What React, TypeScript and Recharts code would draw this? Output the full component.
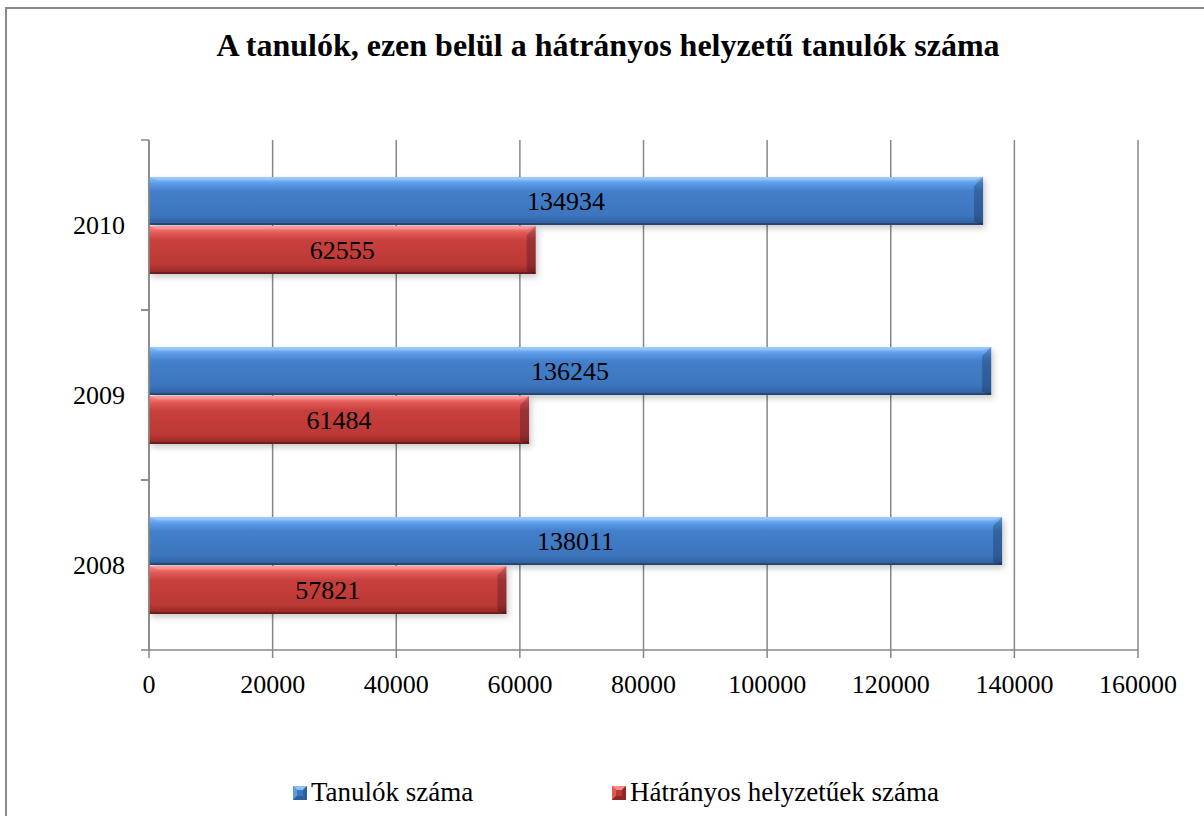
import React from "react";
import { BarChart, Bar, XAxis, YAxis, CartesianGrid, LabelList } from "recharts";

const years = ["2010", "2009", "2008"];
const tanulok = [134934, 136245, 138011];
const hatranyos = [62555, 61484, 57821];
const xTicks = [0, 20000, 40000, 60000, 80000, 100000, 120000, 140000, 160000];
const title = "A tanulók, ezen belül a hátrányos helyzetű tanulók száma";
const seriesNames = ["Tanulók száma", "Hátrányos helyzetűek száma"];

const data = years.map((y, i) => ({ year: y, tanulok: tanulok[i], hatranyos: hatranyos[i] }));

const W = 1204;
const H = 816;
const PLOT_LEFT = 149;
const PLOT_TOP = 140;
const PLOT_BOTTOM = 650;
const PLOT_RIGHT = 1138;
const HALF_BAND = (PLOT_BOTTOM - PLOT_TOP) / years.length / 2;
const FONT = "'Liberation Serif', 'Times New Roman', serif";
const AXIS = "#878787";

const palettes: Record<string, string[]> = {
  blue: ["#8cc2ff", "#5a9ae6", "#437fca", "#3c75bd", "#2f5e9c"],
  red: ["#ff8a88", "#e25a57", "#c8403d", "#bb3936", "#8f2623"],
};

const makeShape = (key: string) => (props: any) => {
  const { x, y, width, height } = props;
  if (!width || width <= 0) return <g />;
  const c = palettes[key];
  const id = `g-${key}-${Math.round(y)}`;
  const b = 9;
  return (
    <g>
      <defs>
        <linearGradient id={id} x1="0" y1="0" x2="0" y2="1">
          <stop offset="0" stopColor={c[0]} />
          <stop offset="0.14" stopColor={c[1]} />
          <stop offset="0.3" stopColor={c[2]} />
          <stop offset="0.8" stopColor={c[3]} />
          <stop offset="1" stopColor={c[4]} />
        </linearGradient>
        <filter id={`s-${id}`} x="-5%" y="-30%" width="110%" height="160%">
          <feGaussianBlur stdDeviation="3" />
        </filter>
      </defs>
      <rect x={x + 2} y={y + 3} width={width} height={height} fill="rgba(0,0,0,0.22)" filter={`url(#s-${id})`} />
      <rect x={x} y={y} width={width} height={height} fill={`url(#${id})`} />
      <polygon
        points={`${x + width - b},${y + b} ${x + width},${y} ${x + width},${y + height} ${x + width - b},${y + height - 3}`}
        fill="rgba(0,0,20,0.22)"
      />
      <polygon
        points={`${x},${y} ${x + width},${y} ${x + width - b},${y + b * 0.4} ${x + b},${y + b * 0.4}`}
        fill="rgba(255,255,255,0.18)"
      />
      <rect x={x} y={y + height - 2} width={width} height={2} fill="rgba(0,0,0,0.25)" />
    </g>
  );
};

const YTick = (props: any) => {
  const { x, y, payload } = props;
  const axisX = x + 24;
  return (
    <g>
      <line x1={axisX - 8} x2={axisX} y1={y - HALF_BAND} y2={y - HALF_BAND} stroke={AXIS} strokeWidth={1.5} />
      <line x1={axisX - 8} x2={axisX} y1={y + HALF_BAND} y2={y + HALF_BAND} stroke={AXIS} strokeWidth={1.5} />
      <text x={x} y={y} dy={9} textAnchor="end" fontFamily={FONT} fontSize={26} fill="#000">
        {payload.value}
      </text>
    </g>
  );
};

const Swatch = ({ key2 }: { key2: string }) => {
  const c = palettes[key2];
  return (
    <svg width={14} height={14} style={{ display: "block" }}>
      <rect x={0} y={0} width={14} height={14} fill={c[3]} />
      <polygon points="0,0 14,0 10,4 4,4" fill={c[0]} />
      <polygon points="0,0 4,4 4,10 0,14" fill={c[1]} />
      <polygon points="14,0 14,14 10,10 10,4" fill={c[4]} />
      <polygon points="0,14 14,14 10,10 4,10" fill={c[4]} />
    </svg>
  );
};

export default function App() {
  return (
    <div style={{ position: "absolute", left: 0, top: 0, width: W, height: H, overflow: "hidden", background: "#fff" }}>
      <div
        style={{
          position: "absolute",
          left: 5,
          top: 7,
          width: W + 20,
          height: H + 20,
          border: "2.5px solid #8a8a8a",
          boxSizing: "border-box",
        }}
      />
      <div
        style={{
          position: "absolute",
          left: 6,
          width: W,
          top: 27,
          textAlign: "center",
          fontFamily: FONT,
          fontWeight: "bold",
          fontSize: 32,
          color: "#000",
          whiteSpace: "nowrap",
        }}
      >
        {title}
      </div>
      <div style={{ position: "absolute", left: 0, top: 0 }}>
        <BarChart
          width={W}
          height={H}
          data={data}
          layout="vertical"
          margin={{ top: PLOT_TOP, right: W - PLOT_RIGHT, bottom: H - PLOT_BOTTOM - 60, left: 0 }}
          barGap={1}
          barSize={48}
        >
          <CartesianGrid horizontal={false} vertical stroke={AXIS} strokeWidth={1.5} />
          <XAxis
            type="number"
            domain={[0, 160000]}
            ticks={xTicks}
            interval={0}
            height={60}
            axisLine={{ stroke: AXIS, strokeWidth: 1.5 }}
            tickLine={{ stroke: AXIS, strokeWidth: 1.5 }}
            tickSize={8}
            tickMargin={17}
            tick={{ fill: "#000", fontFamily: FONT, fontSize: 26 }}
          />
          <YAxis
            type="category"
            dataKey="year"
            width={PLOT_LEFT}
            axisLine={{ stroke: AXIS, strokeWidth: 1.5 }}
            tickLine={false}
            tickSize={8}
            tickMargin={16}
            tick={<YTick />}
          />
          <Bar dataKey="tanulok" name={seriesNames[0]} fill="#3c75bd" shape={makeShape("blue")} isAnimationActive={false}>
            <LabelList dataKey="tanulok" position="center" fill="#000" fontFamily={FONT} fontSize={26} />
          </Bar>
          <Bar dataKey="hatranyos" name={seriesNames[1]} fill="#bb3936" shape={makeShape("red")} isAnimationActive={false}>
            <LabelList dataKey="hatranyos" position="center" fill="#000" fontFamily={FONT} fontSize={26} />
          </Bar>
        </BarChart>
      </div>
      <div
        style={{
          position: "absolute",
          top: 777,
          left: 293,
          display: "flex",
          alignItems: "center",
          fontFamily: FONT,
          fontSize: 27,
          color: "#000",
        }}
      >
        <Swatch key2="blue" />
        <span style={{ marginLeft: 4 }}>{seriesNames[0]}</span>
      </div>
      <div
        style={{
          position: "absolute",
          top: 777,
          left: 612,
          display: "flex",
          alignItems: "center",
          fontFamily: FONT,
          fontSize: 27,
          color: "#000",
        }}
      >
        <Swatch key2="red" />
        <span style={{ marginLeft: 4 }}>{seriesNames[1]}</span>
      </div>
    </div>
  );
}
